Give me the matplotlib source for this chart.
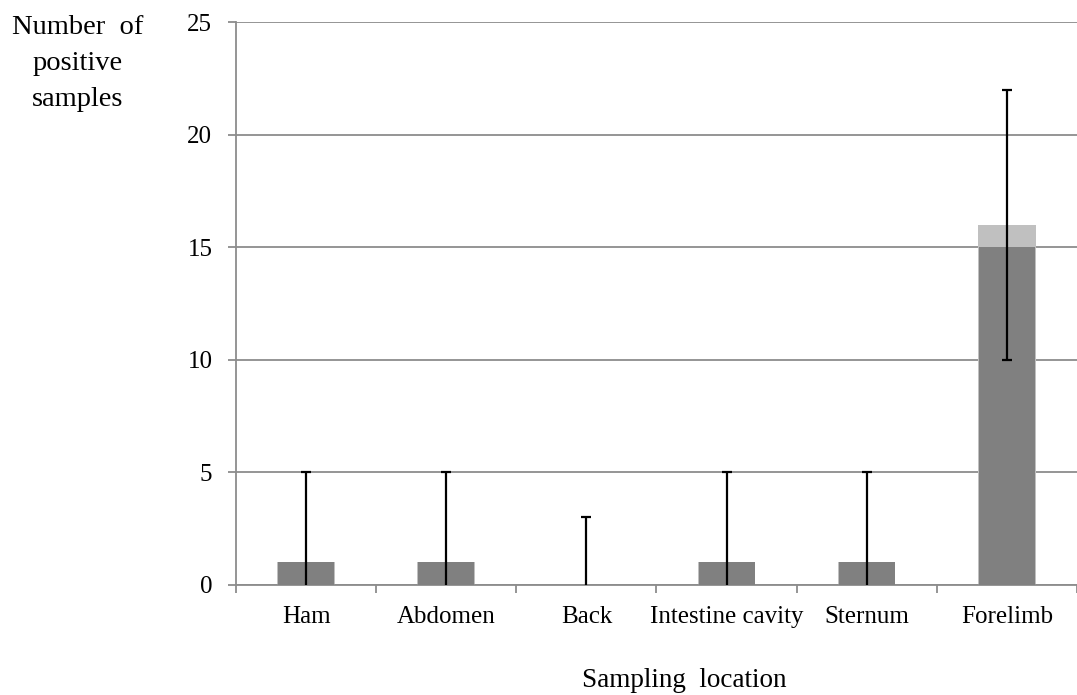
import numpy as np
import matplotlib.pyplot as plt

plt.rcParams['font.family'] = ['Liberation Serif', 'DejaVu Serif']

locations = ["Ham", "Abdomen", "Back", "Intestine cavity", "Sternum", "Forelimb"]
median_pos = [1, 1, 0, 1, 1, 15]
mean_pos = [1, 1, 0, 1, 1, 16]
err_low = [0, 0, 0, 0, 0, 10]
err_high = [5, 5, 3, 5, 5, 22]

fig = plt.figure(figsize=(10.77, 6.95), dpi=100)
ax = fig.add_axes([0.2191, 0.1583, 0.7809, 0.8100])

x = np.arange(len(locations))
ax.bar(x, mean_pos, width=0.41, color="#c0c0c0", zorder=2)
ax.bar(x, median_pos, width=0.40, color="#808080", zorder=3)

med = np.array(median_pos)
low = np.array(err_low)
yerr = [med - low, np.array(err_high) - med]
eb = ax.errorbar(x, med, yerr=yerr, fmt="none", ecolor="black", elinewidth=1.6,
                 capsize=3.5, capthick=1.6, zorder=4)
# no lower cap where the range starts at zero
eb[1][0].set_markevery(list(np.nonzero(low > 0)[0]))

ax.set_xlim(-0.5, len(locations) - 0.5)
ax.set_ylim(0, 25)
ax.set_yticks(range(0, 26, 5))
ax.yaxis.grid(True, color="#8c8c8c", linewidth=1.3, zorder=0)
ax.set_axisbelow(True)

ax.set_xticks(x)
ax.set_xticklabels(locations, fontsize=18)
ax.set_xticks(np.arange(-0.5, len(locations) + 0.5, 1), minor=True)
ax.tick_params(axis="x", which="major", length=0, pad=15)
ax.tick_params(axis="x", which="minor", length=6, color="#8c8c8c", width=1.3)
ax.tick_params(axis="y", length=6, color="#8c8c8c", width=1.3, pad=11, labelsize=18)

for side in ["top", "right"]:
    ax.spines[side].set_visible(False)
for side in ["left", "bottom"]:
    ax.spines[side].set_color("#8c8c8c")
    ax.spines[side].set_linewidth(1.3)

fig.text(0.072, 0.978, "Number  of\npositive\nsamples", ha="center", va="top",
         fontsize=20.5, linespacing=1.58)
fig.text(0.635, 0.003, "Sampling  location", ha="center", va="bottom", fontsize=19.5)

fig.savefig("out.png", dpi=100)
